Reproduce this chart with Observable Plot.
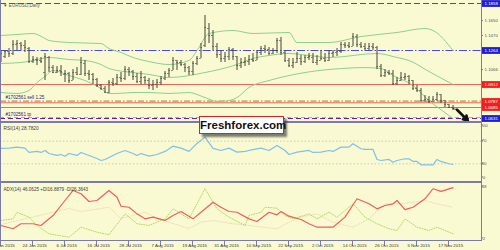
<!DOCTYPE html>
<html><head><meta charset="utf-8">
<script src="https://cdn.jsdelivr.net/npm/d3@7"></script>
<script src="https://cdn.jsdelivr.net/npm/@observablehq/plot@0.6"></script>
<style>
html,body{margin:0;padding:0;background:#fafad2;}
#wrap{position:relative;width:500px;height:250px;overflow:hidden;background:#fafad2;}
#wrap svg{position:absolute;left:0;overflow:visible;}
.ln{position:absolute;background:#7b7bab;}
#wm{position:absolute;left:199px;top:116px;width:83px;height:16px;background:#fff;border:1.5px solid #e3211c;box-shadow:3px 3px 2px rgba(40,40,40,.6);font:bold 11.5px 'Liberation Sans',Arial,sans-serif;color:#111;text-align:center;line-height:16px;}
</style></head>
<body><div id="wrap"></div>
<script>
// ---------- data ----------
const symbolTitle = "▼ EURUSD,Daily";
const dateLabels = ["12 Jun 2015","24 Jun 2015","6 Jul 2015","16 Jul 2015","28 Jul 2015","7 Aug 2015","19 Aug 2015","31 Aug 2015","10 Sep 2015","22 Sep 2015","2 Oct 2015","14 Oct 2015","26 Oct 2015","5 Nov 2015","17 Nov 2015"];
const dateIdx = [0,8,16,24,32,40,48,56,64,72,80,88,96,104,112];

const high = [1.1264,1.1264,1.1291,1.1401,1.1401,1.1374,1.1401,1.1305,1.1201,1.1191,
 1.1191,1.1233,1.1201,1.1107,1.1097,1.1107,1.1056,1.1035,1.1066,1.1086,
 1.1191,1.1160,1.1056,1.1025,1.0974,1.0912,1.0897,1.0953,1.0974,1.1015,
 1.1035,1.1097,1.1086,1.1056,1.1025,1.1045,1.0994,1.0974,1.0953,1.0963,
 1.0994,1.1045,1.1076,1.1191,1.1160,1.1160,1.1129,1.1097,1.1149,1.1201,
 1.1360,1.1711,1.1614,1.1530,1.1360,1.1264,1.1243,1.1305,1.1291,1.1201,
 1.1181,1.1191,1.1212,1.1233,1.1264,1.1319,1.1333,1.1305,1.1291,1.1429,
 1.1443,1.1264,1.1181,1.1181,1.1243,1.1212,1.1212,1.1233,1.1233,1.1212,
 1.1264,1.1233,1.1264,1.1264,1.1291,1.1374,1.1374,1.1374,1.1494,1.1482,
 1.1374,1.1360,1.1360,1.1360,1.1319,1.1118,1.1066,1.1056,1.1056,1.0984,
 1.1035,1.1025,1.1004,1.0953,1.0905,1.0883,1.0831,1.0824,1.0824,1.0853,
 1.0838,1.0794,1.0736,1.0719];
const low = [1.1139,1.1181,1.1191,1.1212,1.1264,1.1264,1.1243,1.1129,1.1129,1.1107,
 1.1129,1.0953,1.1035,1.1025,1.1025,1.0994,1.0933,1.0922,1.0953,1.1004,
 1.1004,1.0994,1.0953,1.0912,1.0890,1.0868,1.0846,1.0846,1.0897,1.0905,
 1.0933,1.0953,1.0994,1.0953,1.0922,1.0912,1.0912,1.0875,1.0868,1.0883,
 1.0905,1.0953,1.0984,1.1056,1.1056,1.1097,1.1035,1.1004,1.1004,1.1107,
 1.1181,1.1305,1.1360,1.1264,1.1181,1.1139,1.1139,1.1160,1.1160,1.1056,
 1.1076,1.1097,1.1107,1.1139,1.1160,1.1212,1.1233,1.1212,1.1222,1.1233,
 1.1212,1.1139,1.1086,1.1076,1.1129,1.1107,1.1129,1.1160,1.1129,1.1107,
 1.1160,1.1139,1.1149,1.1191,1.1201,1.1233,1.1291,1.1291,1.1319,1.1305,
 1.1291,1.1264,1.1264,1.1264,1.1066,1.0984,1.0984,1.1004,1.0905,1.0905,
 1.0943,1.0953,1.0912,1.0868,1.0853,1.0770,1.0770,1.0753,1.0770,1.0787,
 1.0753,1.0685,1.0680,1.0670];
const open = [1.1243,1.1201,1.1254,1.1233,1.1346,1.1360,1.1333,1.1291,1.1149,1.1170,
 1.1160,1.1035,1.1191,1.1086,1.1035,1.1056,1.1015,1.1025,1.0953,1.1035,
 1.1015,1.1129,1.1025,1.1015,1.0963,1.0905,1.0883,1.0853,1.0933,1.0922,
 1.0984,1.0974,1.1066,1.1045,1.0994,1.0943,1.0984,1.0953,1.0905,1.0912,
 1.0933,1.0974,1.1025,1.1056,1.1160,1.1139,1.1118,1.1086,1.1045,1.1129,
 1.1181,1.1333,1.1554,1.1470,1.1319,1.1222,1.1181,1.1201,1.1278,1.1201,
 1.1107,1.1139,1.1149,1.1170,1.1160,1.1243,1.1291,1.1278,1.1233,1.1264,
 1.1401,1.1243,1.1160,1.1107,1.1139,1.1181,1.1149,1.1191,1.1191,1.1139,
 1.1160,1.1181,1.1160,1.1233,1.1243,1.1254,1.1346,1.1333,1.1319,1.1456,
 1.1346,1.1319,1.1291,1.1319,1.1305,1.1097,1.1004,1.1035,1.1025,1.0922,
 1.0953,1.0984,1.0994,1.0953,1.0883,1.0868,1.0794,1.0802,1.0787,1.0802,
 1.0838,1.0794,1.0736,1.0685];
const close = [1.1233,1.1254,1.1233,1.1346,1.1360,1.1333,1.1305,1.1149,1.1170,1.1160,
 1.1149,1.1201,1.1086,1.1035,1.1056,1.1045,1.1025,1.0953,1.1035,1.1015,
 1.1139,1.1025,1.1015,1.0963,1.0905,1.0883,1.0853,1.0933,1.0922,1.0984,
 1.0974,1.1066,1.1045,1.0994,1.0943,1.0984,1.0953,1.0905,1.0912,1.0933,
 1.0974,1.1025,1.1056,1.1160,1.1139,1.1118,1.1086,1.1045,1.1129,1.1181,
 1.1305,1.1566,1.1470,1.1319,1.1222,1.1181,1.1201,1.1278,1.1201,1.1107,
 1.1139,1.1149,1.1170,1.1160,1.1243,1.1291,1.1278,1.1233,1.1264,1.1401,
 1.1243,1.1160,1.1107,1.1139,1.1181,1.1149,1.1191,1.1201,1.1139,1.1160,
 1.1181,1.1160,1.1233,1.1243,1.1254,1.1346,1.1333,1.1319,1.1456,1.1346,
 1.1319,1.1291,1.1319,1.1305,1.1097,1.1004,1.1035,1.1025,1.0922,1.0953,
 1.0984,1.0994,1.0953,1.0883,1.0868,1.0794,1.0802,1.0787,1.0802,1.0838,
 1.0794,1.0736,1.0685,1.0680];

const bbUpperIdx = [0,4,8,11,12,17,25,27,30,33,37,42,47,49,52,58,63,72,74,82,90,99,106,108,113];
const bbUpper = [1.1470,1.1482,1.1494,1.1429,1.1401,1.1374,1.1360,1.1291,1.1243,1.1191,1.1149,1.1118,1.1160,1.1264,1.1494,1.1530,1.1494,1.1506,1.1374,1.1374,1.1456,1.1506,1.1554,1.1530,1.1264];
const bbMiddleIdx = [0,5,8,12,17,21,25,27,33,37,42,51,59,63,67,72,77,82,94,99,102,107,113];
const bbMiddle = [1.1129,1.1139,1.1160,1.1191,1.1170,1.1160,1.1118,1.1076,1.1035,1.1015,1.0984,1.1035,1.1118,1.1181,1.1212,1.1233,1.1212,1.1191,1.1233,1.1191,1.1160,1.1045,1.0912];
const bbLowerIdx = [0,4,7,9,11,13,17,21,25,27,29,33,37,42,47,51,54,57,59,62,67,72,76,85,91,95,98,103,107,111,113];
const bbLower = [1.0853,1.0846,1.0868,1.0933,1.0994,1.1056,1.1004,1.0953,1.0883,1.0846,1.0846,1.0853,1.0853,1.0846,1.0853,1.0816,1.0787,1.0794,1.0816,1.0890,1.0953,1.1004,1.1035,1.1076,1.1086,1.1076,1.1004,1.0905,1.0794,1.0660,1.0631];

// horizontal levels (price, kind)
const levelPrices = [1.1858, 1.1264, 1.0912, 1.0790, 1.0765, 1.0685, 1.0636, 1.0631];
const levelKinds  = ["blueDash","blueDashDot","red","order","red","red","lightDash","tp"];
const orderLabels = ["#1702561 sell 1.25", "#1702561 tp"];
const orderLabelPrices = [1.0790, 1.0631];

// right price axis labels (as printed on the reference's price scale)
const priceLabelValues = [1.1858,1.1650,1.1470,1.1264,1.1066,1.0912,1.0787,1.0685,1.0631];
const priceLabelText = ["1.1858","1.1650","1.1470","1.1264","1.1066","1.0912","1.0787","1.0685","1.0631"];
const priceLabelKind = ["blue","grid","grid","blue","grid","red","red","red","blue"];

// forecast arrow (bar index, price)
const arrowFrom = {i: 114.0, p: 1.0674};
const arrowTo = {i: 116.7, p: 1.0621};

const rsiTitle = "RSI(14) 28.7820";
const rsiIdx = [0,2,4,6,7,9,10,11,12,14,15,16,17,19,20,22,24,25,26,28,29,31,33,34,35,37,39,41,43,45,47,49,51,53,55,57,59,61,62,65,67,69,71,72,74,77,78,80,82,83,85,87,88,90,91,93,94,95,97,98,99,101,102,103,104,105,108,109,110,112,113];
const rsiVal = [57.2,57.7,59.5,57.7,50.1,51.9,50.1,53.6,48.3,44.8,46.5,43.5,48.3,44.8,50.1,44.8,39.5,35.9,37.7,44.8,48.3,53.6,48.3,44.8,48.3,43.5,46.5,51.9,61.2,57.7,51.9,66,77.2,57.2,53.6,57.7,50.6,51.9,53.6,57.7,53.6,62.5,53.6,46.5,50.6,53.6,50.1,50.6,53.6,51.9,59.5,59.5,65.5,56.6,55.4,55.4,37.7,35.9,37.7,32.9,35.9,38.9,38.9,34.2,34.2,28.3,28.3,37.7,34.2,30.1,28.78];
const rsiLevels = [70, 30];
const rsiAxisValues = [100, 70, 30, 0];

const adxTitle = "ADX(14) 46.0625 +DI16.8879 -DI26.3643";
const adxIdx = [0,3,5,8,10,13,16,18,20,22,24,27,29,30,32,34,36,38,41,43,45,48,50,53,55,57,59,62,64,67,69,70,72,75,77,79,83,86,89,92,94,96,98,99,101,103,106,108,110,113];
const adxVal = [15.1,12.4,16.5,16.5,15.1,23.2,35.5,43.7,41,34.7,35.5,43.7,38.2,30.8,30,24.6,20.5,21.9,19.2,23.2,26.5,20.5,25.9,34.1,30,26.5,25.9,20.5,18.3,25.9,23.8,26.5,22.7,20,16.5,13.7,13.7,21.9,36.9,32.8,28.7,31.4,32.8,35.5,28.1,30,36.9,45.1,42.9,46.06];
const pdiIdx = [0,3,4,7,9,12,17,20,24,27,31,34,37,41,43,47,51,54,57,61,62,65,66,69,71,73,77,79,82,84,88,91,94,97,99,101,104,107,109,113];
const pdiVal = [19.2,20.5,25.9,21.9,15.1,8.3,5.5,13.7,9.6,7.5,24.6,16.5,15.1,20.5,28.7,20.5,45.1,28.7,21.9,15.1,23.2,25.9,30,29.2,23.2,20.5,24.6,20.5,25.9,21.9,32.8,21.9,16.5,12.4,11,20.5,13.7,11,13.7,8.3];
const mdiIdx = [0,17,20,27,30,36,39,43,47,50,53,58,62,69,72,75,79,83,88,92,96,100,106,109,113];
const mdiVal = [15.9,29,26.5,30,20.8,25.9,20.8,16.7,12.6,17.8,19.2,16.5,15.1,12.4,17.8,21.9,24.6,17.8,13.7,20.5,32.8,32.8,35.5,32.8,30];
const adxAxisValues = [48, 2];

// ---------- build ----------
const FONT = "'Liberation Sans', Arial, sans-serif";
const xDomain = [-0.125, 120.125];
const xRange = [0, 481];
const X_LABEL0 = 120.25, X_LABEL1 = 124.9;   // right price-scale strip, in bar units
const bars = high.map((h, i) => ({i, high: h, low: low[i], open: open[i], close: close[i]}));
const zip = (idx, vals) => idx.map((d, k) => ({i: d, v: vals[k]}));

// the reference's price scale is not evenly spaced; follow its printed labels
const priceScale = d3.scaleLinear().domain(priceLabelValues.slice().reverse()).range([118,107,101,84,69,50,35,20,3]);

const levelStyle = {
  blueDash: {stroke: "#4646d8", dash: "6,3"},
  blueDashDot: {stroke: "#4a4ae6", dash: "8,2,1.5,2"},
  red: {stroke: "#f0645a", dash: null},
  order: {stroke: "#9c7a3c", dash: "6,2,1.5,2"},
  lightDash: {stroke: "#a0a0f0", dash: "4,3"},
  tp: {stroke: "#6a1ab8", dash: "5,3"}
};
const levels = levelPrices.map((p, k) => ({p, ...levelStyle[levelKinds[k]]}));
const labelBg = {blue: "#1e1ed2", red: "#f01e1e"};
const priceLabels = priceLabelValues.map((v, k) => ({v, t: priceLabelText[k], kind: priceLabelKind[k]}));
const boxed = priceLabels.filter(d => d.kind !== "grid");
const gridded = priceLabels.filter(d => d.kind === "grid");

function rightAxis(items, clampLo, clampHi) {
  return (index, scales) => {
    const g = d3.create("svg:g").attr("font-family", FONT).attr("font-size", 4.4);
    for (const d of items) {
      let y = scales.y(d.v);
      y = Math.max(clampLo, Math.min(clampHi, y));
      g.append("line").attr("x1", 481).attr("x2", 483).attr("y1", y).attr("y2", y).attr("stroke", "#7b7bab");
      g.append("text").attr("x", 484).attr("y", y).attr("dy", "0.36em").attr("fill", "#555").text(d.t);
    }
    return g.node();
  };
}

const wrap = document.getElementById("wrap");
const BAR = "#45453a";

const main = Plot.plot({
  width: 500, height: 122, margin: 0, marginRight: 19,
  x: {domain: xDomain, range: xRange, axis: null},
  y: {transform: p => priceScale(p), domain: [0, 122], range: [0, 122], axis: null},
  style: {background: "transparent"},
  marks: [
    ...levels.map(l => Plot.ruleY([l], {y: "p", stroke: l.stroke, strokeWidth: 1, strokeDasharray: l.dash || undefined})),
    Plot.line(zip(bbUpperIdx, bbUpper), {x: "i", y: "v", stroke: "#8fd08f", strokeWidth: 1, curve: "monotone-x"}),
    Plot.line(zip(bbMiddleIdx, bbMiddle), {x: "i", y: "v", stroke: "#8fd08f", strokeWidth: 1, curve: "monotone-x"}),
    Plot.line(zip(bbLowerIdx, bbLower), {x: "i", y: "v", stroke: "#8fd08f", strokeWidth: 1, curve: "monotone-x"}),
    Plot.ruleX(bars, {x: "i", y1: "low", y2: "high", stroke: BAR, strokeWidth: 1}),
    Plot.ruleY(bars, {y: "open", x1: d => d.i - 0.3, x2: "i", stroke: BAR, strokeWidth: 0.9}),
    Plot.ruleY(bars, {y: "close", x1: "i", x2: d => d.i + 0.3, stroke: BAR, strokeWidth: 0.9}),
    Plot.link([{i1: bars.length - 1, p1: close[close.length - 1], i2: arrowFrom.i, p2: arrowFrom.p}], {x1: "i1", y1: "p1", x2: "i2", y2: "p2", stroke: "#222", strokeWidth: 0.8}),
    Plot.arrow([{a: arrowFrom, b: arrowTo}], {x1: d => d.a.i, y1: d => d.a.p, x2: d => d.b.i, y2: d => d.b.p, stroke: "#111", strokeWidth: 2.6, headLength: 7, bend: 0}),
    Plot.text([symbolTitle], {frameAnchor: "top-left", dx: 2.5, dy: 3.5, fontSize: 4.6, fill: "#606060", fontFamily: FONT, textAnchor: "start"}),
    Plot.text(orderLabels.map((t, k) => ({t, p: orderLabelPrices[k]})), {y: "p", text: "t", frameAnchor: "left", dx: 5, dy: -4, fontSize: 4.6, fill: "#1a1a80", fontFamily: FONT, textAnchor: "start"}),
    // right price scale
    Plot.ruleY(gridded, {y: "v", x1: () => xDomain[1], x2: () => xDomain[1] + 0.5, stroke: "#7b7bab"}),
    Plot.ruleY(boxed, {y: "v", x1: () => X_LABEL0, x2: () => X_LABEL1, stroke: d => labelBg[d.kind], strokeWidth: 6.8}),
    Plot.text(priceLabels, {y: "v", text: "t", frameAnchor: "right", dx: 3, textAnchor: "start", fontSize: 4.4, fontFamily: FONT, fill: d => d.kind === "grid" ? "#555" : "#fff"})
  ]
});
main.style.top = "0px";
wrap.appendChild(main);

const rsi = Plot.plot({
  width: 500, height: 60, margin: 0, marginRight: 19,
  x: {domain: xDomain, range: xRange, axis: null},
  y: {domain: [0, 100], range: [58.3, 1.7], axis: null},
  style: {background: "transparent"},
  marks: [
    Plot.ruleY(rsiLevels, {stroke: "#c9c9b2", strokeWidth: 1, strokeDasharray: "1.5,2"}),
    Plot.line(zip(rsiIdx, rsiVal), {x: "i", y: "v", stroke: "#7cc0ee", strokeWidth: 1.2}),
    Plot.text([rsiTitle], {frameAnchor: "top-left", dx: 3, dy: 4, fontSize: 4.8, fill: "#3a3a3a", fontFamily: FONT, textAnchor: "start"}),
    rightAxis(rsiAxisValues.map(v => ({v, t: String(v)})), 3, 55)
  ]
});
rsi.style.top = "122px";
wrap.appendChild(rsi);

const adx = Plot.plot({
  width: 500, height: 68, margin: 0, marginRight: 19, marginBottom: 10,
  x: {domain: xDomain, range: xRange, axis: null},
  y: {domain: [2, 48], range: [59, 2.7], axis: null},
  style: {background: "transparent"},
  marks: [
    Plot.line(zip(mdiIdx, mdiVal), {x: "i", y: "v", stroke: "#eedcb0", strokeWidth: 1, strokeDasharray: "1,1.5"}),
    Plot.line(zip(pdiIdx, pdiVal), {x: "i", y: "v", stroke: "#b4d860", strokeWidth: 1, strokeDasharray: "1,1.5"}),
    Plot.line(zip(adxIdx, adxVal), {x: "i", y: "v", stroke: "#f25c5c", strokeWidth: 1.2}),
    Plot.text([adxTitle], {frameAnchor: "top-left", dx: 3, dy: 5, fontSize: 4.6, fill: "#3a3a3a", fontFamily: FONT, textAnchor: "start"}),
    (index, scales, values, dims) => {
      const g = d3.create("svg:g").attr("font-family", FONT).attr("font-size", 4.4).attr("fill", "#333");
      const yb = dims.height - dims.marginBottom;
      dateIdx.forEach((d, k) => {
        const x = scales.x(d);
        g.append("line").attr("x1", x).attr("x2", x).attr("y1", yb).attr("y2", yb + 6).attr("stroke", "#7b7bab");
        g.append("text").attr("x", x + 2.2).attr("y", yb + 6).attr("dy", "0.32em").text(dateLabels[k]);
      });
      return g.node();
    },
    rightAxis(adxAxisValues.map(v => ({v, t: String(v)})), 4, 56)
  ]
});
adx.style.top = "182px";
wrap.appendChild(adx);

// frame / pane separators
const lines = [
  {l: 481, t: 0, w: 1, h: 241},
  {l: 0, t: 0, w: 1, h: 241},
  {l: 0, t: 120.5, w: 481, h: 2},
  {l: 0, t: 181, w: 481, h: 2},
  {l: 0, t: 240, w: 482, h: 1}
];
for (const s of lines) {
  const d = document.createElement("div");
  d.className = "ln";
  Object.assign(d.style, {left: s.l + "px", top: s.t + "px", width: s.w + "px", height: s.h + "px"});
  wrap.appendChild(d);
}
const wm = document.createElement("div");
wm.id = "wm";
wm.textContent = "Freshforex.com";
wrap.appendChild(wm);
</script></body></html>
